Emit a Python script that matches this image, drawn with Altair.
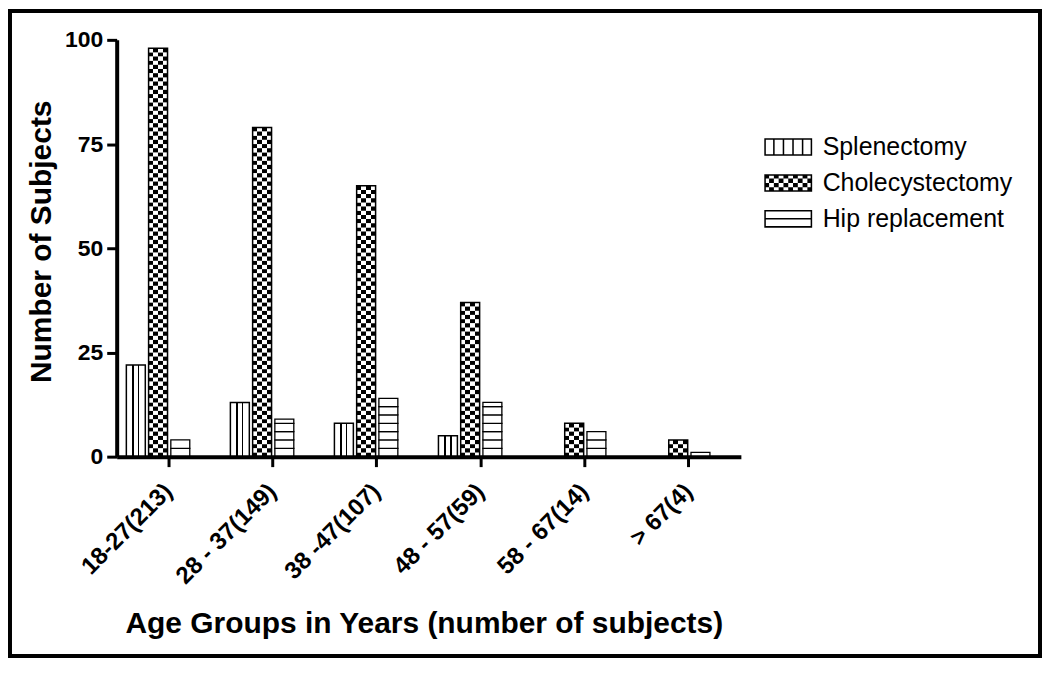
import altair as alt
import pandas as pd

# ---------------- data ----------------
groups = ["18-27(213)", "28 - 37(149)", "38 -47(107)", "48 - 57(59)", "58 - 67(14)", "> 67(4)"]
series = ["Splenectomy", "Cholecystectomy", "Hip replacement"]
splenectomy = [22, 13, 8, 5, 0, 0]
cholecystectomy = [98, 79, 65, 37, 8, 4]
hip_replacement = [4, 9, 14, 13, 6, 1]
y_ticks = [0, 25, 50, 75, 100]

FONT = "Liberation Sans"

# ---------------- derived tables ----------------
splen_df = pd.DataFrame({"group": groups, "series": series[0], "value": splenectomy})
splen_df = splen_df[splen_df["value"] > 0]
chole_df = pd.DataFrame({"group": groups, "series": series[1], "value": cholecystectomy})

CELL = 1.0  # checker cell height in data units
rows = []
for g, v in zip(groups, cholecystectomy):
    k = 0
    while k * CELL < v:
        rows.append({"group": g, "series": series[1], "lo": k * CELL,
                     "hi": min((k + 1) * CELL, v), "parity": k % 2})
        k += 1
checker_df = pd.DataFrame(rows)

STRIPE = 2.0  # horizontal stripe spacing in data units
hrows = []
for g, v in zip(groups, hip_replacement):
    k = 0
    while k * STRIPE < v:
        hrows.append({"group": g, "series": series[2], "lo": k * STRIPE,
                      "hi": min((k + 1) * STRIPE, v)})
        k += 1
hip_df = pd.DataFrame(hrows)

# ---------------- fills ----------------
def stops(seq):
    return [alt.GradientStop(color=c, offset=o) for c, o in seq]

vstripes = alt.Gradient(gradient="linear", x1=0, x2=1, y1=0, y2=0, stops=stops([
    ("white", 0), ("white", 0.31), ("black", 0.31), ("black", 0.38), ("white", 0.38),
    ("white", 0.62), ("black", 0.62), ("black", 0.69), ("white", 0.69), ("white", 1)]))
checkA = alt.Gradient(gradient="linear", x1=0, x2=1, y1=0, y2=0, stops=stops([
    ("black", 0), ("black", 0.25), ("white", 0.25), ("white", 0.5),
    ("black", 0.5), ("black", 0.75), ("white", 0.75), ("white", 1)]))
checkB = alt.Gradient(gradient="linear", x1=0, x2=1, y1=0, y2=0, stops=stops([
    ("white", 0), ("white", 0.25), ("black", 0.25), ("black", 0.5),
    ("white", 0.5), ("white", 0.75), ("black", 0.75), ("black", 1)]))

# ---------------- legend symbols (custom paths) ----------------
def R(x0, y0, x1, y1):
    return f"M{x0:.3f},{y0:.3f}H{x1:.3f}V{y1:.3f}H{x0:.3f}Z"

W, H, T = 2.667, 0.98, 0.17
frame_p = R(-W, -H, W, -H + T) + R(-W, H - T, W, H) + R(-W, -H, -W + T, H) + R(W - T, -H, W, H)
splen_sym = frame_p + "".join(
    R(-W + k * 2 * W / 5 - T / 2, -H, -W + k * 2 * W / 5 + T / 2, H) for k in range(1, 5))
hip_sym = frame_p + R(-W, -T / 2, W, T / 2)
cw, ch = 2 * W / 10, 2 * H / 4
chole_sym = frame_p + "".join(
    R(-W + i * cw, -H + j * ch, -W + (i + 1) * cw, -H + (j + 1) * ch)
    for i in range(10) for j in range(4) if (i + j) % 2 == 0)

# ---------------- encodings ----------------
x_enc = alt.X(
    "group:N",
    scale=alt.Scale(domain=groups, paddingInner=0, paddingOuter=0),
    axis=alt.Axis(
        title="Age Groups in Years (number of subjects)",
        labelAngle=-45, labelAlign="right", labelBaseline="middle", labelPadding=21,
        labelFontSize=24, labelFontWeight="bold", labelLimit=400,
        tickSize=10, tickWidth=3, domainWidth=4,
        titleFontSize=30, titleFontWeight="bold", titleX=308, titleY=176,
        titleBaseline="alphabetic", titleAlign="center", zindex=1,
    ),
)
xo_enc = alt.XOffset(
    "series:N",
    scale=alt.Scale(domain=series, paddingInner=0.148, paddingOuter=0.913, align=0.238),
)
y_scale = alt.Scale(domain=[0, 100], nice=False)
y_axis = alt.Axis(
    values=y_ticks, title="Number of Subjects", grid=False,
    labelFontSize=23, labelFontWeight="bold", labelPadding=4,
    tickSize=10, tickWidth=3, domainWidth=4,
    titleFontSize=30, titleFontWeight="bold", titleAngle=270,
    titleX=-66, titleY=202, titleBaseline="alphabetic", titleAlign="center", zindex=1,
)

splen_layer = alt.Chart(splen_df).mark_bar(fill=vstripes, stroke="black", strokeWidth=1.5).encode(
    x=x_enc, xOffset=xo_enc, y=alt.Y("value:Q", scale=y_scale, axis=y_axis))

checkA_layer = alt.Chart(checker_df).transform_filter("datum.parity == 0").mark_bar(
    fill=checkA, strokeWidth=0).encode(
    x=x_enc, xOffset=xo_enc, y=alt.Y("lo:Q", scale=y_scale, axis=y_axis), y2="hi:Q")
checkB_layer = alt.Chart(checker_df).transform_filter("datum.parity == 1").mark_bar(
    fill=checkB, strokeWidth=0).encode(
    x=x_enc, xOffset=xo_enc, y=alt.Y("lo:Q", scale=y_scale, axis=y_axis), y2="hi:Q")
chole_outline = alt.Chart(chole_df).mark_bar(
    fill="white", fillOpacity=0, stroke="black", strokeWidth=1.5).encode(
    x=x_enc, xOffset=xo_enc, y=alt.Y("value:Q", scale=y_scale, axis=y_axis))

hip_layer = alt.Chart(hip_df).mark_bar(fill="white", stroke="black", strokeWidth=1.3).encode(
    x=x_enc, xOffset=xo_enc, y=alt.Y("lo:Q", scale=y_scale, axis=y_axis), y2="hi:Q")

legend_layer = alt.Chart(chole_df).transform_filter("false").mark_point(
    filled=True, color="black", opacity=1, size=324).encode(
    shape=alt.Shape(
        "series:N",
        scale=alt.Scale(domain=series, range=[splen_sym, chole_sym, hip_sym]),
        legend=alt.Legend(
            title=None, orient="none", legendX=661, legendY=95, padding=0,
            symbolSize=324, symbolStrokeWidth=0, symbolFillColor="black",
            symbolOpacity=1, labelFontSize=25, labelFont=FONT, labelColor="black",
            labelOffset=22, rowPadding=10, labelLimit=400,
        ),
    )
)

frame_layer = alt.Chart(pd.DataFrame({"k": [0]})).mark_rect(
    fill="white", fillOpacity=0, stroke="black", strokeWidth=4).encode(
    x=alt.value(-107), x2=alt.value(926), y=alt.value(-29), y2=alt.value(618))

chart = alt.layer(
    frame_layer, splen_layer, checkA_layer, checkB_layer, chole_outline, hip_layer, legend_layer
).properties(
    width=626, height=418, padding=0, background="white"
).configure_view(stroke=None).configure_axis(
    labelFont=FONT, titleFont=FONT, labelColor="black", titleColor="black",
    domainColor="black", tickColor="black",
)

chart.save("out.html", embed_options={"renderer": "svg", "actions": False})
